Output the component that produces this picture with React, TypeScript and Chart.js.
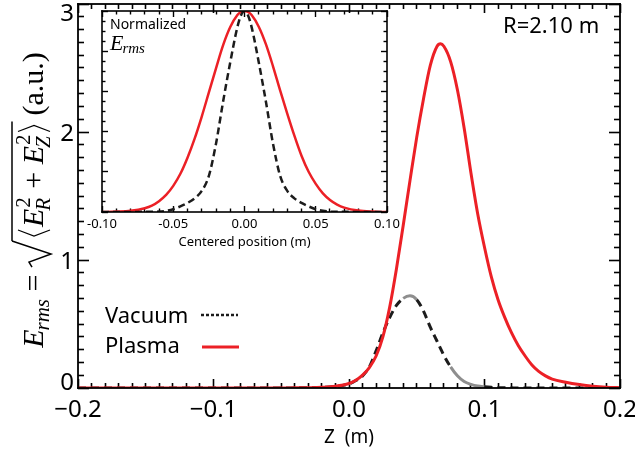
import { useEffect, useRef } from 'react';
import { Chart, registerables } from 'chart.js';

Chart.register(...registerables);

// ---------- data ----------
const zMain = [
  -0.2, -0.15, -0.1, -0.07, -0.05, -0.04, -0.03, -0.02, -0.01, 0.0,
  0.005, 0.01, 0.015, 0.02, 0.025, 0.03, 0.035, 0.04, 0.045, 0.05,
  0.055, 0.06, 0.065, 0.0675, 0.07, 0.075, 0.08, 0.085, 0.09, 0.095,
  0.1, 0.105, 0.11, 0.115, 0.12, 0.125, 0.13, 0.135, 0.14, 0.145,
  0.15, 0.16, 0.17, 0.18, 0.19, 0.2,
];
const plasmaMain = [
  0, 0, 0, 0, 0, 0.001, 0.002, 0.005, 0.013, 0.035,
  0.06, 0.1, 0.16, 0.25, 0.4, 0.63, 0.93, 1.27, 1.62, 1.96,
  2.26, 2.52, 2.67, 2.69, 2.67, 2.55, 2.33, 2.03, 1.68, 1.36,
  1.1, 0.87, 0.69, 0.55, 0.43, 0.33, 0.25, 0.18, 0.13, 0.095,
  0.07, 0.045, 0.027, 0.014, 0.006, 0.002,
];
const vacuumMain = [
  0, 0, 0, 0, 0, 0.001, 0.002, 0.005, 0.012, 0.032,
  0.058, 0.095, 0.165, 0.29, 0.43, 0.55, 0.645, 0.7, 0.72, 0.69,
  0.6, 0.475, 0.365, 0.31, 0.255, 0.165, 0.095, 0.05, 0.028, 0.015,
  0.009, 0.005, 0.003, 0.002, 0.001, 0, 0, 0, 0, 0,
  0, 0, 0, 0, 0, 0,
];

const zInset = [
  -0.1, -0.09, -0.08, -0.07, -0.065, -0.06, -0.055, -0.05, -0.045, -0.04,
  -0.035, -0.03, -0.025, -0.02, -0.015, -0.01, -0.005, -0.0025, 0, 0.0025,
  0.005, 0.01, 0.015, 0.02, 0.025, 0.03, 0.035, 0.04, 0.045, 0.05,
  0.055, 0.06, 0.065, 0.07, 0.08, 0.09, 0.1,
];
const plasmaInset = [
  0, 0.002, 0.006, 0.019, 0.032, 0.054, 0.085, 0.13, 0.19, 0.27,
  0.365, 0.475, 0.595, 0.715, 0.83, 0.92, 0.98, 0.995, 1.0, 0.995,
  0.98, 0.922, 0.835, 0.725, 0.605, 0.49, 0.38, 0.28, 0.2, 0.14,
  0.093, 0.06, 0.037, 0.022, 0.007, 0.002, 0,
];
const vacuumInset = [
  0, 0, 0, 0.001, 0.001, 0.002, 0.006, 0.014, 0.028, 0.045,
  0.068, 0.105, 0.18, 0.34, 0.55, 0.745, 0.92, 0.978, 1.0, 0.978,
  0.92, 0.745, 0.55, 0.34, 0.18, 0.105, 0.068, 0.045, 0.028, 0.014,
  0.006, 0.002, 0.001, 0.001, 0, 0, 0,
];

const xTicksMain = [-0.2, -0.1, 0.0, 0.1, 0.2];
const xTickLabelsMain = ['\u22120.2', '\u22120.1', '0.0', '0.1', '0.2'];
const yTicksMain = [0, 1, 2, 3];
const yTickLabelsMain = ['0', '1', '2', '3'];
const xTicksInset = [-0.1, -0.05, 0.0, 0.05, 0.1];
const xTickLabelsInset = ['-0.10', '-0.05', '0.00', '0.05', '0.10'];
const yTicksInset = [0, 0.2, 0.4, 0.6, 0.8, 1.0];

// minor tick positions (axis decoration, not data)
const steps = (from: number, to: number, step: number, majors: number[]) => {
  const out: number[] = [];
  const n = Math.round((to - from) / step);
  for (let k = 0; k <= n; k++) {
    const v = Math.round((from + k * step) * 10000) / 10000;
    if (!majors.some((m) => Math.abs(m - v) < 1e-6)) out.push(v);
  }
  return out;
};
const xMinorMain = steps(-0.2, 0.2, 0.01, xTicksMain);
const yMinorMain = steps(0, 3, 0.1, yTicksMain);
const xMinorInset = steps(-0.1, 0.1, 0.01, xTicksInset);
const yMinorInset = steps(0, 1, 0.05, yTicksInset);

// ---------- style ----------
const RED = 'rgb(236,32,38)';
const BLACK = '#1c1c1c';
const GRAY = '#8e8e8e';
const SANS = '"Noto Sans", "DejaVu Sans", sans-serif';
const SERIF = '"Liberation Serif", "DejaVu Serif", serif';

function seg(ctx: CanvasRenderingContext2D, x1: number, y1: number, x2: number, y2: number) {
  ctx.beginPath();
  ctx.moveTo(x1, y1);
  ctx.lineTo(x2, y2);
  ctx.stroke();
}

// an invisible-label axis whose only job is to draw inward tick marks
function tickAxis(position: string, values: number[], len: number, min: number, max: number, width: number) {
  const horizontal = position === 'top' || position === 'bottom';
  return {
    type: 'linear',
    axis: horizontal ? 'x' : 'y',
    position,
    min,
    max,
    display: true,
    afterBuildTicks: (s: any) => {
      s.ticks = values.map((v) => ({ value: v }));
    },
    afterFit: (s: any) => {
      if (horizontal) s.height = 0;
      else s.width = 0;
    },
    ticks: { display: false },
    border: { display: false },
    title: { display: false },
    grid: {
      display: true,
      drawOnChartArea: false,
      drawTicks: true,
      tickLength: -len,
      tickColor: '#000000',
      tickWidth: width,
    },
  };
}

function tickAxes(
  p: string,
  xr: [number, number], yr: [number, number],
  xMaj: number[], xMin: number[], yMaj: number[], yMin: number[],
  L: { xM: number; xm: number; yM: number; ym: number },
  w: number,
) {
  return {
    [p + 'xbM']: tickAxis('bottom', xMaj, L.xM, xr[0], xr[1], w),
    [p + 'xbm']: tickAxis('bottom', xMin, L.xm, xr[0], xr[1], w),
    [p + 'xtM']: tickAxis('top', xMaj, L.xM, xr[0], xr[1], w),
    [p + 'xtm']: tickAxis('top', xMin, L.xm, xr[0], xr[1], w),
    [p + 'ylM']: tickAxis('left', yMaj, L.yM, yr[0], yr[1], w),
    [p + 'ylm']: tickAxis('left', yMin, L.ym, yr[0], yr[1], w),
    [p + 'yrM']: tickAxis('right', yMaj, L.yM, yr[0], yr[1], w),
    [p + 'yrm']: tickAxis('right', yMin, L.ym, yr[0], yr[1], w),
  };
}

function drawYTitle(ctx: CanvasRenderingContext2D, cx: number, cy: number) {
  const S = 30;
  const s = 21;
  const it = (n: number) => `italic ${n}px ${SERIF}`;
  const rm = (n: number) => `${n}px ${SERIF}`;
  const run = (draw: boolean) => {
    let u = 0;
    const txt = (t: string, font: string, dv = 0) => {
      ctx.font = font;
      const w = ctx.measureText(t).width;
      if (draw) ctx.fillText(t, u, dv);
      u += w;
      return w;
    };
    txt('E', it(S));
    u -= 1;
    txt('rms', it(s), 6);
    txt(' = ', rm(S));
    if (draw) {
      ctx.lineWidth = 1.5;
      ctx.beginPath();
      ctx.moveTo(u, -11);
      ctx.lineTo(u + 5, -14);
      ctx.lineTo(u + 13, 8);
      ctx.lineTo(u + 26, -31);
      ctx.stroke();
    }
    u += 26;
    const barStart = u;
    u += 3;
    if (draw) {
      ctx.lineWidth = 1.2;
      ctx.beginPath();
      ctx.moveTo(u + 8, -25);
      ctx.lineTo(u + 2, -9);
      ctx.lineTo(u + 8, 7);
      ctx.stroke();
    }
    u += 11;
    const ee = (sub: string) => {
      txt('E', it(S));
      ctx.font = rm(s);
      const w1 = ctx.measureText('2').width;
      ctx.font = it(s);
      const w2 = ctx.measureText(sub).width;
      if (draw) {
        ctx.font = rm(s);
        ctx.fillText('2', u + 1, -13);
        ctx.font = it(s);
        ctx.fillText(sub, u - 2, 7);
      }
      u += Math.max(w1 + 1, w2 - 2) + 1;
    };
    ee('R');
    txt(' + ', rm(S));
    ee('Z');
    u += 1;
    if (draw) {
      ctx.lineWidth = 1.2;
      ctx.beginPath();
      ctx.moveTo(u + 1, -25);
      ctx.lineTo(u + 7, -9);
      ctx.lineTo(u + 1, 7);
      ctx.stroke();
    }
    u += 11;
    const barEnd = u;
    if (draw) {
      ctx.lineWidth = 1.5;
      seg(ctx, barStart, -31, barEnd, -31);
    }
    u += 6;
    txt('(a.u.)', rm(S));
    return u;
  };
  ctx.save();
  ctx.fillStyle = '#000';
  ctx.strokeStyle = '#000';
  ctx.setLineDash([]);
  ctx.textAlign = 'left';
  ctx.textBaseline = 'alphabetic';
  const W = run(false);
  ctx.translate(cx, cy);
  ctx.rotate(-Math.PI / 2);
  ctx.translate(-W / 2, 0);
  run(true);
  ctx.restore();
}

function drawFrame(chart: any, w: number) {
  const ctx: CanvasRenderingContext2D = chart.ctx;
  const a = chart.chartArea;
  ctx.save();
  ctx.fillStyle = '#000000';
  ctx.fillRect(a.left - w / 2, a.top - w / 2, a.right - a.left + w, w);
  ctx.fillRect(a.left - w / 2, a.bottom - w / 2, a.right - a.left + w, w);
  ctx.fillRect(a.left - w / 2, a.top - w / 2, w, a.bottom - a.top + w);
  ctx.fillRect(a.right - w / 2, a.top - w / 2, w, a.bottom - a.top + w);
  ctx.restore();
}

const mainText = {
  id: 'mainText',
  afterDraw(chart: any) {
    const { ctx, chartArea: a, scales } = chart;
    const x = scales.x;
    const y = scales.y;
    drawFrame(chart, 1.8);
    ctx.save();
    ctx.fillStyle = '#000';
    ctx.font = `24px ${SANS}`;
    ctx.textAlign = 'center';
    ctx.textBaseline = 'alphabetic';
    xTicksMain.forEach((v, i) => {
      ctx.fillText(xTickLabelsMain[i], x.getPixelForValue(v), 417);
    });
    ctx.textAlign = 'right';
    yTicksMain.forEach((v, i) => {
      const py = Math.min(Math.max(y.getPixelForValue(v), a.top + 8), a.bottom - 7);
      ctx.fillText(yTickLabelsMain[i], a.left - 4, py + 9);
    });
    ctx.textAlign = 'center';
    ctx.font = `19px ${SANS}`;
    ctx.fillText('Z  (m)', (a.left + a.right) / 2, 443);

    ctx.textAlign = 'left';
    ctx.font = `22px ${SANS}`;
    ctx.fillText('R=2.10 m', 503, 33);

    ctx.font = `22px ${SANS}`;
    ctx.fillText('Vacuum', 105, 323);
    ctx.fillText('Plasma', 105, 353);
    ctx.strokeStyle = BLACK;
    ctx.lineWidth = 2.5;
    ctx.setLineDash([3, 2]);
    seg(ctx, 201, 315, 238, 315);
    ctx.setLineDash([]);
    ctx.strokeStyle = RED;
    ctx.lineWidth = 3;
    seg(ctx, 202, 347, 239, 347);
    ctx.restore();

    drawYTitle(ctx, 43, 200);
  },
};

const insetText = {
  id: 'insetText',
  afterDraw(chart: any) {
    const { ctx, chartArea: a, scales } = chart;
    const x = scales.x;
    drawFrame(chart, 1.6);
    ctx.save();
    ctx.fillStyle = '#000';
    ctx.font = `13px ${SANS}`;
    ctx.textAlign = 'center';
    ctx.textBaseline = 'alphabetic';
    xTicksInset.forEach((v, i) => {
      ctx.fillText(xTickLabelsInset[i], x.getPixelForValue(v), 228);
    });
    ctx.fillText('Centered position (m)', (a.left + a.right) / 2, 246);

    ctx.textAlign = 'left';
    ctx.font = `14px ${SANS}`;
    ctx.fillText('Normalized', 25, 29);
    ctx.font = `italic 22px ${SERIF}`;
    ctx.fillText('E', 25, 50);
    const wE = ctx.measureText('E').width;
    ctx.font = `italic 15px ${SERIF}`;
    ctx.fillText('rms', 25 + wE - 1, 53);
    ctx.restore();
  },
};

const isGray = (z: number) => (z >= 0.0375 && z < 0.05) || (z >= 0.075 && z < 0.1);

export default function App() {
  const mainRef = useRef<HTMLCanvasElement>(null);
  const insetRef = useRef<HTMLCanvasElement>(null);

  useEffect(() => {
    document.body.style.margin = '0';
    const main = new Chart(mainRef.current as HTMLCanvasElement, {
      type: 'line',
      data: {
        datasets: [
          {
            label: 'Plasma',
            data: zMain.map((z, i) => ({ x: z, y: plasmaMain[i] })),
            borderColor: RED,
            borderWidth: 3,
            pointRadius: 0,
            cubicInterpolationMode: 'monotone',
          },
          {
            label: 'Vacuum',
            data: zMain.map((z, i) => ({ x: z, y: vacuumMain[i] })),
            borderColor: BLACK,
            borderWidth: 3,
            borderDash: [8, 5],
            pointRadius: 0,
            cubicInterpolationMode: 'monotone',
            segment: {
              borderColor: (c: any) => (isGray(c.p0.parsed.x) ? GRAY : undefined),
              borderDash: (c: any) => (isGray(c.p0.parsed.x) ? [] : undefined),
            },
          },
        ],
      },
      options: {
        responsive: false,
        animation: false,
        devicePixelRatio: 1,
        events: [],
        layout: { padding: { left: 78, right: 15, top: 4, bottom: 61 } },
        plugins: { legend: { display: false }, tooltip: { enabled: false } },
        scales: {
          x: { type: 'linear', display: false, min: -0.2, max: 0.2 },
          y: { type: 'linear', display: false, min: 0, max: 3 },
          ...tickAxes('m', [-0.2, 0.2], [0, 3], xTicksMain, xMinorMain, yTicksMain, yMinorMain,
            { xM: 9, xm: 5, yM: 11, ym: 6 }, 1.6),
        },
      },
      plugins: [mainText],
    } as any);

    const inset = new Chart(insetRef.current as HTMLCanvasElement, {
      type: 'line',
      data: {
        datasets: [
          {
            label: 'Vacuum',
            data: zInset.map((z, i) => ({ x: z, y: vacuumInset[i] })),
            borderColor: BLACK,
            borderWidth: 2.5,
            borderDash: [7, 4],
            pointRadius: 0,
            cubicInterpolationMode: 'monotone',
          },
          {
            label: 'Plasma',
            data: zInset.map((z, i) => ({ x: z, y: plasmaInset[i] })),
            borderColor: RED,
            borderWidth: 2.5,
            pointRadius: 0,
            cubicInterpolationMode: 'monotone',
          },
        ],
      },
      options: {
        responsive: false,
        animation: false,
        devicePixelRatio: 1,
        events: [],
        layout: { padding: { left: 17, right: 18, top: 11, bottom: 40 } },
        plugins: { legend: { display: false }, tooltip: { enabled: false } },
        scales: {
          x: { type: 'linear', display: false, min: -0.1, max: 0.1 },
          y: { type: 'linear', display: false, min: 0, max: 1 },
          ...tickAxes('i', [-0.1, 0.1], [0, 1], xTicksInset, xMinorInset, yTicksInset, yMinorInset,
            { xM: 6, xm: 3.5, yM: 6, ym: 3.5 }, 1.4),
        },
      },
      plugins: [insetText],
    } as any);

    return () => {
      main.destroy();
      inset.destroy();
    };
  }, []);

  return (
    <div style={{ position: 'relative', width: 635, height: 449, background: '#fff' }}>
      <canvas
        ref={mainRef}
        width={635}
        height={449}
        style={{ position: 'absolute', left: 0, top: 0, width: 635, height: 449 }}
      />
      <canvas
        ref={insetRef}
        width={320}
        height={252}
        style={{ position: 'absolute', left: 85, top: 0, width: 320, height: 252 }}
      />
    </div>
  );
}
